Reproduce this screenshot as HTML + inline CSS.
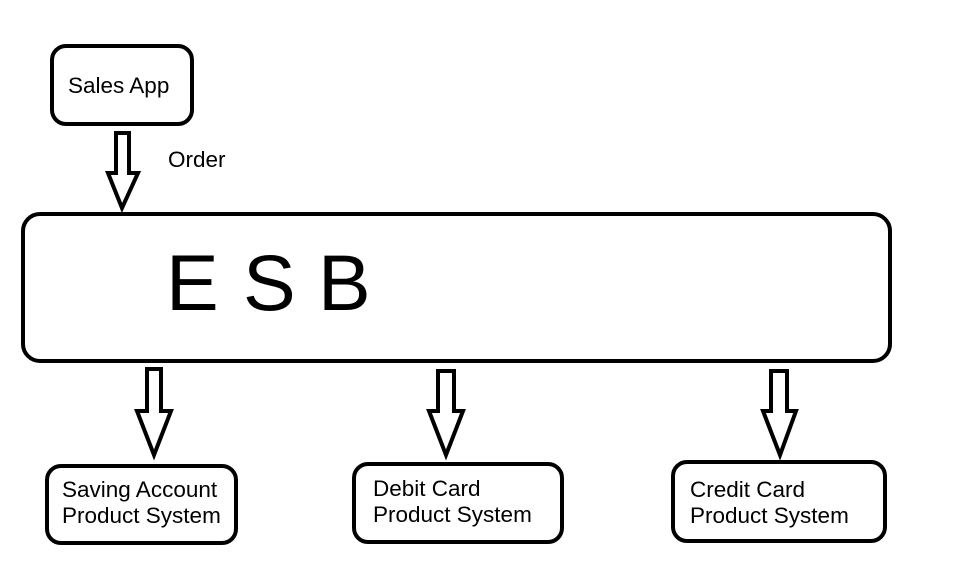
<!DOCTYPE html>
<html><head><meta charset="utf-8"><style>
html,body{margin:0;padding:0;background:#fff;}
svg{display:block;}
text{font-family:"Liberation Sans",Arial,sans-serif;fill:#000;}
</style></head><body>
<svg width="980" height="576" viewBox="0 0 980 576" xmlns="http://www.w3.org/2000/svg">
<g fill="#fff" stroke="#000" stroke-width="4" stroke-linejoin="miter">
<rect x="52" y="46" width="140" height="78" rx="14"/>
<rect x="23" y="214" width="867" height="147" rx="17"/>
<rect x="47" y="466" width="189" height="77" rx="14"/>
<rect x="354" y="464" width="208" height="78" rx="14"/>
<rect x="673" y="462" width="212" height="79" rx="14"/>
<polygon points="116,133 129,133 129,173 138,173 122,208 108,173 116,173"/>
<polygon points="147,369 161,369 161,411 171,411 154,455 137,411 147,411"/>
<polygon points="438,371 454,371 454,411 463,411 446,455 429,411 438,411"/>
<polygon points="771,371 787,371 787,411 796,411 780,455 763,411 771,411"/>
</g>
<g font-size="22.5">
<text x="68" y="93">Sales App</text>
<text x="168" y="167">Order</text>
<text x="62" y="497">Saving Account</text>
<text x="62" y="523">Product System</text>
<text x="373" y="496">Debit Card</text>
<text x="373" y="522">Product System</text>
<text x="690" y="497">Credit Card</text>
<text x="690" y="523">Product System</text>
</g>
<text x="166" y="310" font-size="79">E</text>
<text x="243" y="310" font-size="79">S</text>
<text x="318" y="310" font-size="79">B</text>
</svg>
</body></html>
